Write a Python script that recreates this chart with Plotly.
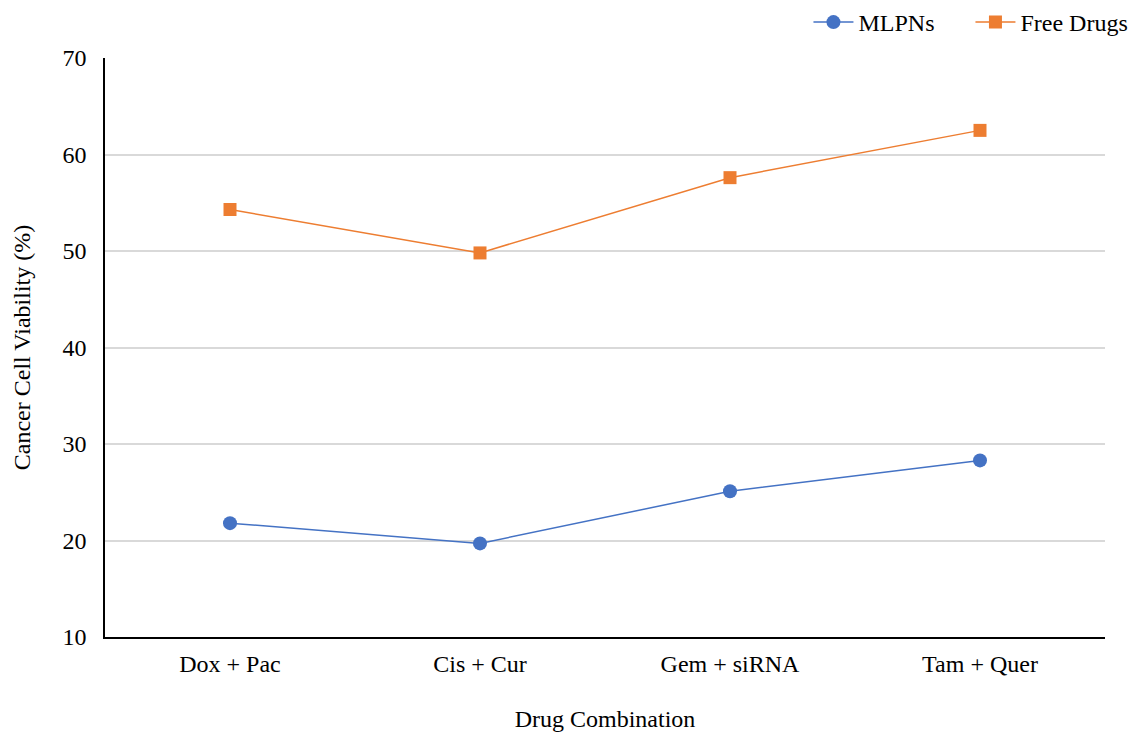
import plotly.graph_objects as go

categories = ["Dox + Pac", "Cis + Cur", "Gem + siRNA", "Tam + Quer"]
mlpns = [21.8, 19.7, 25.1, 28.3]
free_drugs = [54.3, 49.8, 57.6, 62.5]
y_ticks = [10, 20, 30, 40, 50, 60, 70]

FONT = "Liberation Serif, Times New Roman, serif"
FS = 24

fig = go.Figure()
fig.add_trace(go.Scatter(
    x=categories, y=mlpns, name="MLPNs", mode="lines+markers",
    line=dict(color="#4472C4", width=1.5),
    marker=dict(symbol="circle", size=14, color="#4472C4"),
))
fig.add_trace(go.Scatter(
    x=categories, y=free_drugs, name="Free Drugs", mode="lines+markers",
    line=dict(color="#ED7D31", width=1.5),
    marker=dict(symbol="square", size=13, color="#ED7D31"),
))

fig.update_layout(
    width=1137, height=733,
    margin=dict(l=105, r=32, t=58, b=96, autoexpand=False),
    paper_bgcolor="white", plot_bgcolor="white",
    font=dict(family=FONT, size=FS, color="black"),
    showlegend=True,
    legend=dict(orientation="h", xref="container", yref="container",
                x=0.996, xanchor="right", y=1.0, yanchor="top",
                font=dict(family=FONT, size=FS, color="black"),
                itemwidth=40, entrywidth=107, bgcolor="rgba(0,0,0,0)"),
    xaxis=dict(
        title=dict(text="Drug Combination", standoff=35, font=dict(size=FS)),
        showline=True, linecolor="black", linewidth=1.5,
        showgrid=False, ticks="", tickfont=dict(size=FS),
        ticklabelstandoff=4,
        range=[-0.5, 3.5],
    ),
    yaxis=dict(
        title=dict(text="Cancer Cell Viability (%)", standoff=25, font=dict(size=FS)),
        range=[10, 70], tickvals=y_ticks,
        showline=True, linecolor="black", linewidth=1.5,
        showgrid=True, gridcolor="#D9D9D9", gridwidth=1.5,
        ticks="", tickfont=dict(size=FS), zeroline=False,
        ticklabelstandoff=12,
    ),
)

fig.write_html("out.html")
